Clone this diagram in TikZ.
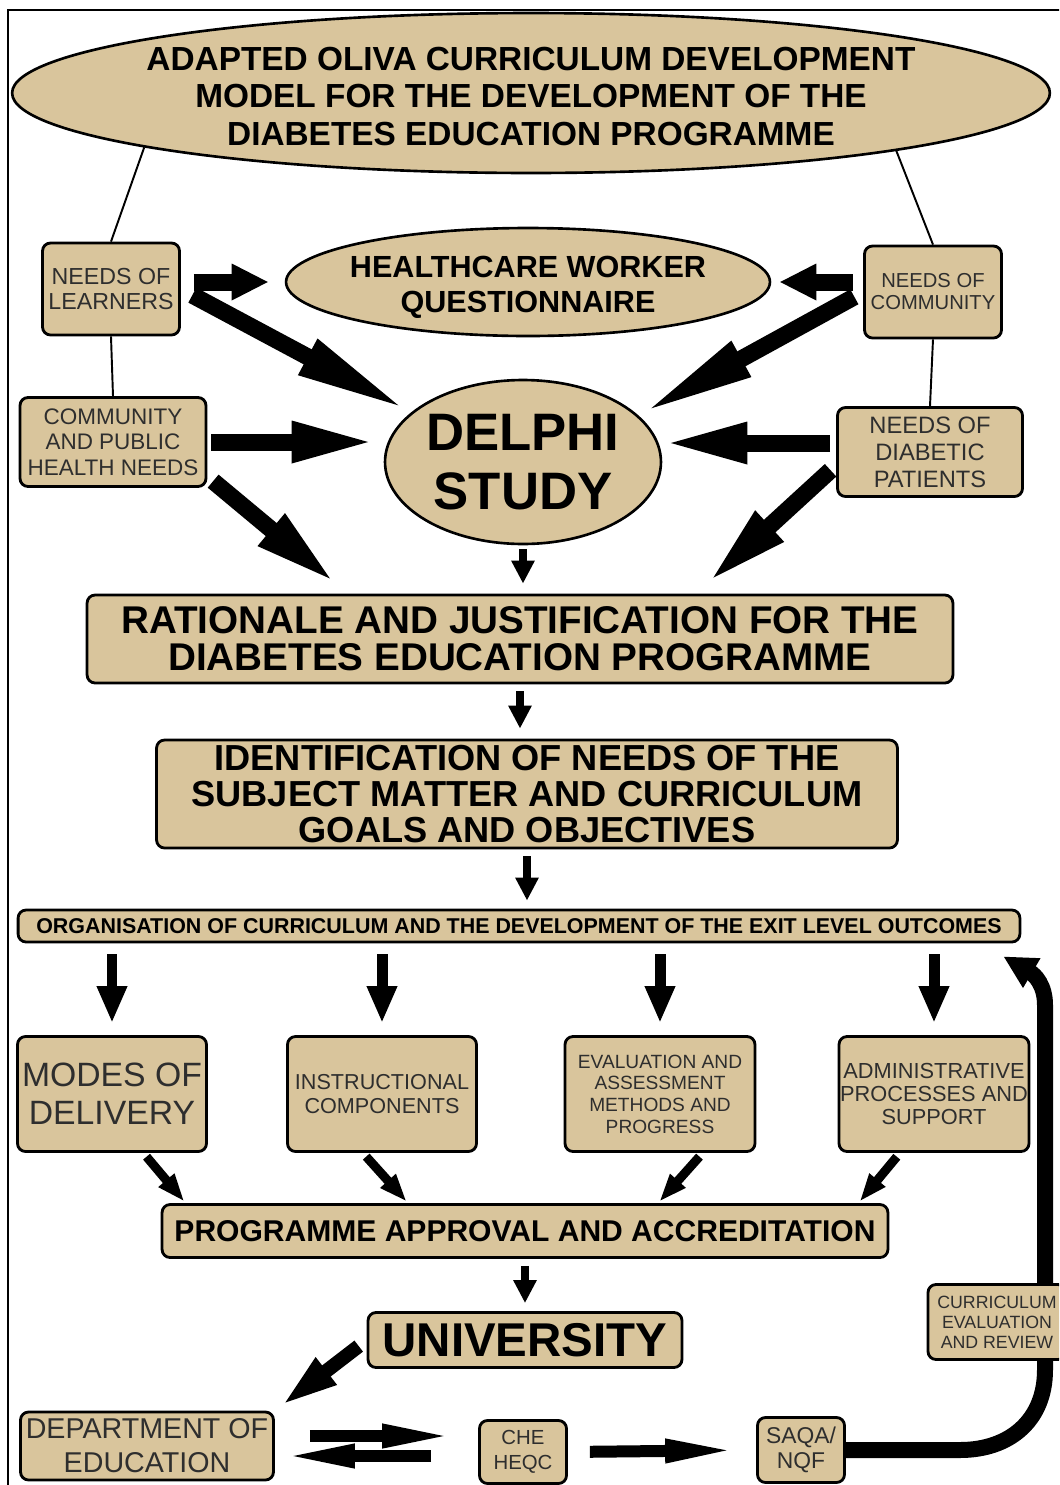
\documentclass[tikz,border=0pt]{standalone}
\usepackage{fontspec}
\setmainfont{Liberation Sans}
\usetikzlibrary{shapes.geometric, arrows.meta}
\definecolor{boxfill}{HTML}{D9C59C}
\definecolor{plaintext}{HTML}{2E2E2E}
\newcommand{\fsz}[2]{\fontsize{#1}{#2}\selectfont}
\tikzset{
  box/.style={draw, line width=1.6pt, rounded corners=1.6mm, fill=boxfill,
              align=center, inner sep=0pt},
  headbox/.style={box},
  notebox/.style={box, text=plaintext},
  oval/.style={ellipse, draw, line width=1.5pt, fill=boxfill, inner sep=0pt},
  link/.style={line width=1.1pt},
  longarrow/.style={line width=3.4mm, -{Triangle[length=23mm, width=7.2mm]}},
  fatarrow/.style={line width=3.4mm, -{Triangle[length=17mm, width=7.4mm]}},
  shortarrow/.style={line width=3.4mm, -{Triangle[length=7.4mm, width=6.8mm]}},
  downarrow/.style={line width=2.2mm, -{Triangle[length=7.4mm, width=5.6mm]}},
  thinarrow/.style={line width=1.6mm, -{Triangle[length=4.6mm, width=4.4mm]}},
  slantarrow/.style={line width=1.8mm, -{Triangle[length=5.6mm, width=3.8mm]}},
  leanarrow/.style={line width=2.8mm, -{Triangle[length=11.6mm, width=6mm]}},
  flatarrow/.style={line width=2.4mm, -{Triangle[length=15mm, width=4.2mm]}},
  feedback/.style={line width=3.2mm, -{Triangle[length=6.6mm, width=6.4mm]}},
}

\begin{document}
\begin{tikzpicture}[x=0.02cm, y=-0.02cm]
  \useasboundingbox (0,0) rectangle (1059,1485);
  \clip (0,0) rectangle (1059,1485);
  \fill[white] (0,0) rectangle (1059,1485);
  \draw[line width=1.2pt] (8,1495) -- (8,10) -- (1070,10);

  % title and the two needs columns
  \node[oval, minimum width=20.76cm, minimum height=3.2cm] (adapt) at (531,93) {};
  \node[align=center, font=\bfseries\fsz{19}{21.6}] at ([yshift=-0.7mm]adapt.center)
    {ADAPTED OLIVA CURRICULUM DEVELOPMENT\\MODEL FOR THE DEVELOPMENT OF THE\\DIABETES EDUCATION PROGRAMME};
  \node[notebox, minimum width=2.74cm, minimum height=1.84cm, font=\fsz{13.2}{14.2}] (learn) at (111,289) {NEEDS OF\\LEARNERS};
  \node[notebox, minimum width=3.72cm, minimum height=1.78cm, font=\fsz{12.8}{14.5}] (comm) at (113,442) {COMMUNITY\\AND PUBLIC\\HEALTH NEEDS};
  \node[notebox, minimum width=2.74cm, minimum height=1.84cm, font=\fsz{11.5}{12.5}] (cneed) at (933,292) {NEEDS OF\\COMMUNITY};
  \node[notebox, minimum width=3.70cm, minimum height=1.78cm, font=\fsz{13.5}{15.4}] (diab) at (930,452) {NEEDS OF\\DIABETIC\\PATIENTS};
  \draw[link] (adapt.188) -- (learn.north);
  \draw[link] (adapt.-9) -- (cneed.north);
  \draw[link] (learn.south) -- (comm.north);
  \draw[link] (cneed.south) -- (diab.north);

  % questionnaire and delphi round
  \node[oval, minimum width=9.68cm, minimum height=2.16cm] (hcw) at (528,282) {};
  \node[align=center, font=\bfseries\fsz{17.4}{20}] at ([yshift=-1.1mm]hcw.center) {HEALTHCARE WORKER\\QUESTIONNAIRE};
  \node[oval, minimum width=5.52cm, minimum height=3.28cm] (delphi) at (523,462) {};
  \node[align=center, font=\bfseries\fsz{30}{34}] at (delphi.center) {DELPHI\\STUDY};

  \node[headbox, minimum width=17.32cm, minimum height=1.76cm, font=\bfseries\fsz{22}{21}] (rat) at (520,639)
    {RATIONALE AND JUSTIFICATION FOR THE\\DIABETES EDUCATION PROGRAMME};
  \node[headbox, minimum width=14.82cm, minimum height=2.16cm, font=\bfseries\fsz{20.6}{20.6}] (ident) at (527,794)
    {IDENTIFICATION OF NEEDS OF THE\\SUBJECT MATTER AND CURRICULUM\\GOALS AND OBJECTIVES};
  \node[headbox, minimum width=20.04cm, minimum height=0.64cm, font=\bfseries\fsz{12.2}{14}] (org) at (519,926)
    {ORGANISATION OF CURRICULUM AND THE DEVELOPMENT OF THE EXIT LEVEL OUTCOMES};

  \draw[shortarrow, shorten <=2.6mm, shorten >=3.2mm] (learn.east |- hcw.west) -- (hcw.west);
  \draw[longarrow, shorten <=2.6mm, shorten >=0.5mm] (learn.east) -- (delphi.156);
  \draw[fatarrow, shorten <=0.8mm, shorten >=1.4mm] (comm.east) -- (comm.east -| delphi.west);
  \draw[fatarrow, shorten <=1.5mm, shorten >=3mm] (comm.-20) -- ([xshift=-34.4mm]rat.north);
  \draw[shortarrow, shorten <=2mm, shorten >=1.6mm] (cneed.west |- hcw.east) -- (hcw.east);
  \draw[longarrow, shorten <=2mm, shorten >=0.5mm] (cneed.west) -- (delphi.22);
  \draw[fatarrow, shorten <=1.2mm] ([yshift=1.8mm]diab.west) -- ([yshift=1.8mm]diab.west -| delphi.east);
  \draw[fatarrow, shorten <=1.5mm, shorten >=3mm] (diab.188) -- ([xshift=35.2mm]rat.north);

  \draw[thinarrow, shorten <=0.8mm, shorten >=2mm] (delphi.south) -- (delphi.south |- rat.north);
  \draw[thinarrow, shorten <=1.4mm, shorten >=2mm] (rat.south) -- (rat.south |- ident.north);
  \draw[thinarrow, shorten <=1.4mm, shorten >=1.6mm] (ident.south) -- (ident.south |- org.north);

  % programme components
  \node[notebox, minimum width=3.78cm, minimum height=2.3cm, font=\fsz{19.2}{21.6}] (modes) at (112,1094) {MODES OF\\DELIVERY};
  \node[notebox, minimum width=3.78cm, minimum height=2.3cm, font=\fsz{12.3}{13.7}] (instr) at (382,1094) {INSTRUCTIONAL\\COMPONENTS};
  \node[notebox, minimum width=3.80cm, minimum height=2.3cm, font=\fsz{10.9}{12.3}] (eval) at (660,1094) {EVALUATION AND\\ASSESSMENT\\METHODS AND\\PROGRESS};
  \node[notebox, minimum width=3.80cm, minimum height=2.3cm, font=\fsz{12.4}{13}] (admin) at (934,1094) {ADMINISTRATIVE\\PROCESSES AND\\SUPPORT};
  \node[headbox, minimum width=14.52cm, minimum height=1.06cm, font=\bfseries\fsz{17.1}{20}] (prog) at (525,1231)
    {PROGRAMME APPROVAL AND ACCREDITATION};

  \draw[downarrow, shorten <=2.2mm, shorten >=2.4mm] (modes.north |- org.south) -- (modes.north);
  \draw[downarrow, shorten <=2.2mm, shorten >=2.4mm] (instr.north |- org.south) -- (instr.north);
  \draw[downarrow, shorten <=2.2mm, shorten >=2.4mm] (eval.north |- org.south) -- (eval.north);
  \draw[downarrow, shorten <=2.2mm, shorten >=2.4mm] (admin.north |- org.south) -- (admin.north);
  \draw[slantarrow, shorten <=1mm, shorten >=0.4mm] (modes.-62) -- ([xshift=5mm]prog.north west);
  \draw[slantarrow, shorten <=1mm, shorten >=0.4mm] (instr.-108) -- ([xshift=-23.4mm]prog.north);
  \draw[slantarrow, shorten <=1mm, shorten >=0.4mm] (eval.-54) -- ([xshift=26.6mm]prog.north);
  \draw[slantarrow, shorten <=1mm, shorten >=0.4mm] (admin.-120) -- ([xshift=-6.2mm]prog.north east);

  % accreditation bodies
  \node[headbox, minimum width=6.28cm, minimum height=1.1cm, font=\bfseries\fsz{27}{30}] (univ) at (525,1340) {UNIVERSITY};
  \node[notebox, minimum width=5.06cm, minimum height=1.36cm, font=\fsz{16.3}{19.3}] (dept) at (147,1446) {DEPARTMENT OF\\EDUCATION};
  \node[notebox, minimum width=1.74cm, minimum height=1.26cm, font=\fsz{11.6}{14.2}] (che) at (523,1452) {CHE\\HEQC};
  \node[notebox, minimum width=1.74cm, minimum height=1.3cm, font=\fsz{13}{14.2}] (saqa) at (801,1450) {SAQA/\\NQF};

  \draw[thinarrow, shorten <=1.4mm, shorten >=1.6mm] (prog.south) -- (univ.north);
  \draw[leanarrow, shorten <=2mm, shorten >=1.4mm] (univ.west) -- (dept.north east);
  \draw[flatarrow, shorten <=7mm, shorten >=4.2mm] ([yshift=2mm]dept.east) -- ([yshift=2mm]dept.east -| che.west);
  \draw[flatarrow, shorten <=9.4mm, shorten >=1mm] ([yshift=-2mm]dept.east -| che.west) -- ([yshift=-2mm]dept.east);
  \draw[flatarrow, shorten <=4.4mm, shorten >=3.2mm] (che.east) -- (saqa.west);

  % review loop back to the outcomes
  \coordinate (fbtip) at ([xshift=-3.6mm, yshift=-2.6mm]org.south east);
  \draw[feedback] (saqa.east) -- (960,1450) .. controls (1010,1450) and (1045,1420) .. (1045,1370)
    -- (1045,1005) .. controls (1045,985) and (1035,975) .. (fbtip);
  \node[notebox, minimum width=2.76cm, minimum height=1.5cm, font=\fsz{10.1}{11.4}] (currev) at (997,1322)
    {CURRICULUM\\EVALUATION\\AND REVIEW};
\end{tikzpicture}
\end{document}
